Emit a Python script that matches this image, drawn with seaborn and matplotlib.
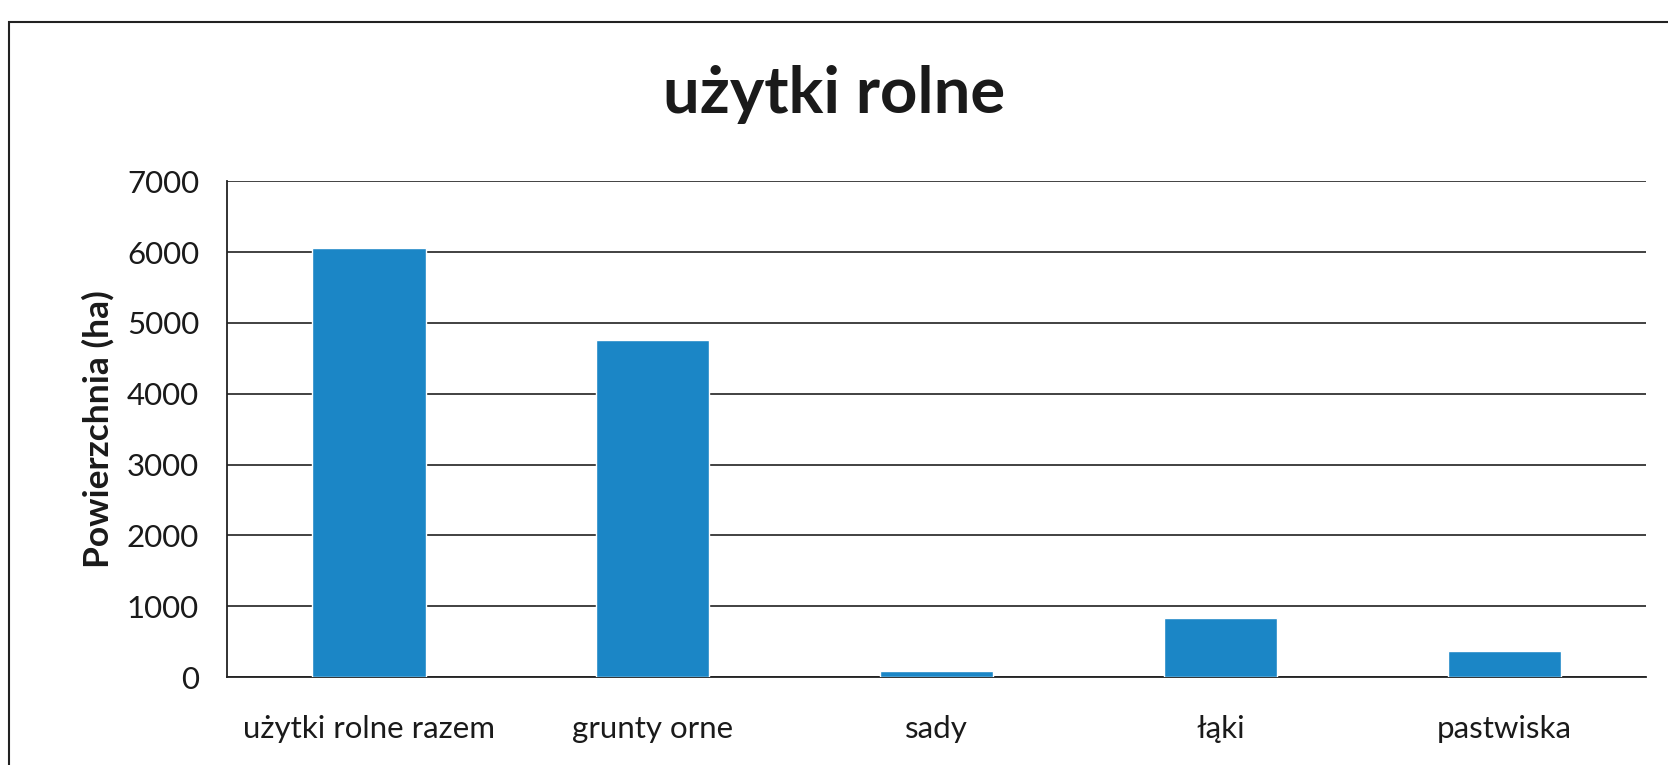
import pandas as pd
import numpy as np
import matplotlib.pyplot as plt
import seaborn as sns
from matplotlib.patches import Rectangle

# values (ha)
kategorie = ['użytki rolne razem', 'grunty orne', 'sady', 'łąki', 'pastwiska']
powierzchnia = [6060, 4760, 90, 840, 370]
yticks = [0, 1000, 2000, 3000, 4000, 5000, 6000, 7000]

df = pd.DataFrame({'kategoria': kategorie, 'powierzchnia': powierzchnia})

sns.set_theme(style='white')
plt.rcParams['font.family'] = ['Lato', 'DejaVu Sans']

fig = plt.figure(figsize=(16.68, 7.65), dpi=100)
ax = fig.add_axes([0.136, 0.115, 0.851, 0.648])

sns.barplot(data=df, x='kategoria', y='powierzchnia', color='#1B86C6',
            saturation=1, width=0.4, ax=ax, zorder=3)

ax.set_ylim(0, 7000)
ax.set_xlim(-0.5, 4.5)
ax.set_yticks(yticks)
ax.grid(axis='y', color='#333333', linewidth=1.3, zorder=0)
ax.set_axisbelow(True)

for s in ['top', 'right']:
    ax.spines[s].set_visible(False)
ax.spines['left'].set_color('#222222')
ax.spines['bottom'].set_color('#222222')
ax.spines['left'].set_linewidth(1.3)
ax.spines['bottom'].set_linewidth(1.3)

ax.tick_params(axis='both', length=0, labelsize=22.5, colors='#1a1a1a')
ax.tick_params(axis='y', pad=20)
ax.tick_params(axis='x', pad=27)

ax.set_xlabel('')
ax.set_ylabel('Powierzchnia (ha)', fontsize=25.5, fontweight='bold', color='#1a1a1a', labelpad=9)

fig.text(0.50, 0.876, 'użytki rolne', ha='center', va='center',
         fontsize=47, fontweight='bold', color='#1a1a1a')

# outer frame of the scanned chart area
fig.patches.append(Rectangle((0.0055, -0.1), 1.2, 1.0706, transform=fig.transFigure,
                             fill=False, edgecolor='#222222', linewidth=1.5))

fig.savefig('out.png', dpi=100)
